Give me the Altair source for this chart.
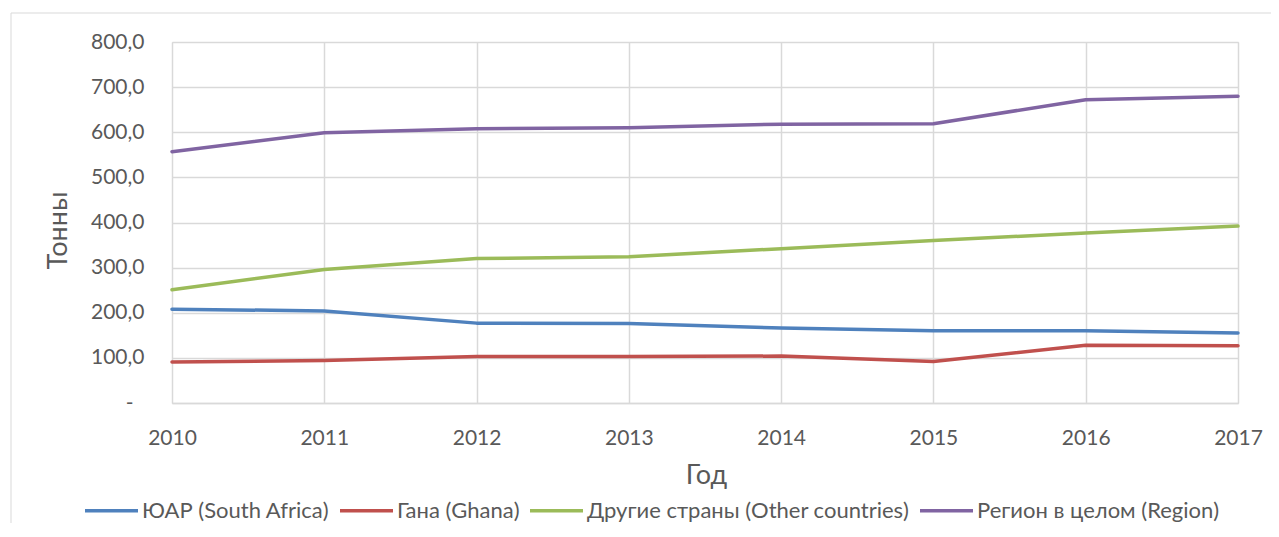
import altair as alt
import pandas as pd

years = [2010, 2011, 2012, 2013, 2014, 2015, 2016, 2017]
south_africa = [208, 204, 177, 176, 166, 160, 160, 155]
ghana = [91, 94, 103, 103, 104, 92, 128, 127]
other = [251, 296, 320, 324, 342, 360, 377, 392]
region = [557, 599, 608, 610, 618, 619, 672, 680]

series_names = ["ЮАР (South Africa)", "Гана (Ghana)", "Другие страны (Other countries)", "Регион в целом (Region)"]
series_colors = ["#4F81BD", "#C0504D", "#9BBB59", "#8064A2"]
y_ticks = [0, 100, 200, 300, 400, 500, 600, 700, 800]

rows = []
for name, vals in zip(series_names, [south_africa, ghana, other, region]):
    for yr, v in zip(years, vals):
        rows.append({"Год": yr, "Тонны": v, "series": name})
df = pd.DataFrame(rows)

FONT = "Lato"
TXT = "#595959"
GRID = "#D9D9D9"

W, H = 1066, 361

lines = alt.Chart(df).mark_line(strokeWidth=3.5, strokeCap="round", strokeJoin="round").encode(
    x=alt.X("Год:Q",
            scale=alt.Scale(domain=[2010, 2017], nice=False, zero=False),
            axis=alt.Axis(values=years, format="d", grid=True, gridColor=GRID, gridWidth=1.5,
                          domainColor=GRID, domainWidth=1.5, ticks=False, labelFlush=False,
                          labelPadding=41, labelBaseline="alphabetic",
                          labelFontSize=21, labelColor=TXT, labelFont=FONT,
                          title="Год", titleFontSize=27, titleColor=TXT, titleFont=FONT,
                          titleFontWeight="normal", titleX=W / 2 + 1, titleY=80,
                          titleBaseline="alphabetic", titleAnchor="middle")),
    y=alt.Y("Тонны:Q",
            scale=alt.Scale(domain=[0, 800], nice=False),
            axis=alt.Axis(values=y_ticks, grid=True, gridColor=GRID, gridWidth=1.5,
                          domain=False, ticks=False, labelFlush=False,
                          labelPadding={"condition": {"test": "datum.value == 0", "value": 39}, "value": 28},
                          labelExpr="datum.value == 0 ? '-' : replace(format(datum.value, '.1f'), '.', ',')",
                          labelFontSize=21, labelColor=TXT, labelFont=FONT,
                          title="Тонны", titleFontSize=27, titleColor=TXT, titleFont=FONT,
                          titleFontWeight="normal", titleAngle=-90, titleX=-106, titleY=188,
                          titleBaseline="alphabetic", titleAlign="center")),
    color=alt.Color("series:N",
                    scale=alt.Scale(domain=series_names, range=series_colors),
                    legend=alt.Legend(orient="none", legendX=-89, legendY=440, direction="horizontal",
                                      title=None, symbolType="stroke", symbolSize=2809,
                                      symbolStrokeWidth=3.5, labelFontSize=22, labelFont=FONT,
                                      labelColor=TXT, labelOffset=2, columnPadding=4,
                                      labelLimit=600, padding=0)),
)

frame_df = pd.DataFrame({"k": [0]})
frame = alt.Chart(frame_df).mark_rect(filled=False, stroke=GRID, strokeWidth=1).encode(
    x=alt.value(-161), x2=alt.value(1400), y=alt.value(-29), y2=alt.value(700)
)

chart = alt.layer(frame, lines).properties(
    width=W, height=H,
    autosize=alt.AutoSizeParams(type="none"),
    padding={"left": 164, "top": 34, "right": 33, "bottom": 120},
).configure_view(stroke=None).configure(background="white")

chart.save("out.html", embed_options={"renderer": "svg", "actions": False})
